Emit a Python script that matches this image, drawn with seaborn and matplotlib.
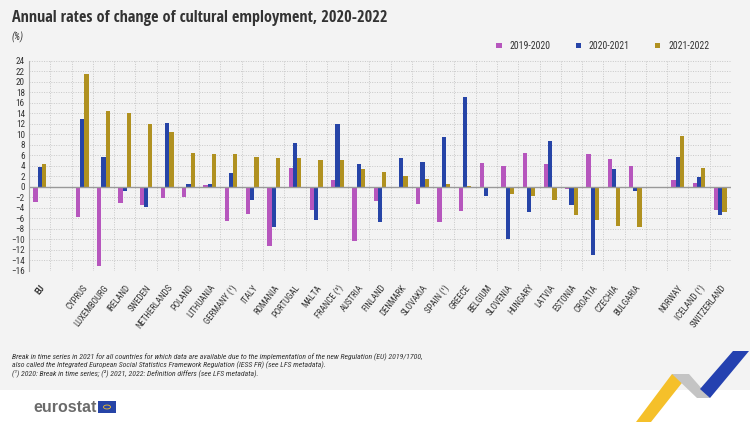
import numpy as np
import pandas as pd
import matplotlib
matplotlib.use("Agg")
import matplotlib.pyplot as plt
from matplotlib.patches import Polygon, Rectangle, Circle
import seaborn as sns

nan = np.nan

countries = ["EU", "CYPRUS", "LUXEMBOURG", "IRELAND", "SWEDEN", "NETHERLANDS",
             "POLAND", "LITHUANIA", "GERMANY (¹)", "ITALY", "ROMANIA", "PORTUGAL",
             "MALTA", "FRANCE (²)", "AUSTRIA", "FINLAND", "DENMARK", "SLOVAKIA",
             "SPAIN (¹)", "GREECE", "BELGIUM", "SLOVENIA", "HUNGARY", "LATVIA",
             "ESTONIA", "CROATIA", "CZECHIA", "BULGARIA", "NORWAY", "ICELAND (¹)",
             "SWITZERLAND"]

periods = ["2019-2020", "2020-2021", "2021-2022"]

v_2019_2020 = [-3.0, -5.7, -15.1, -3.1, -3.5, -2.2, -1.9, 0.3, -6.5, -5.2, -11.3, 3.5,
               -4.5, 1.2, -10.3, -2.7, nan, -3.3, -6.8, -4.6, 4.6, 3.9, 6.5, 4.3,
               -0.5, 6.2, 5.3, 4.0, 1.3, 0.8, -4.4]
v_2020_2021 = [3.7, 12.9, 5.7, -0.8, -3.8, 12.1, 0.6, 0.5, 2.7, -2.5, -7.6, 8.3,
               -6.3, 11.9, 4.4, -6.8, 5.4, 4.7, 9.5, 17.0, -1.8, -10.0, -4.8, 8.7,
               -3.4, -13.0, 3.3, -0.9, 5.7, 1.8, -5.3]
v_2021_2022 = [4.4, 21.5, 14.5, 14.0, 12.0, 10.5, 6.5, 6.2, 6.2, 5.6, 5.4, 5.4,
               5.0, 5.0, 3.4, 2.8, 2.0, 1.4, 0.5, 0.1, nan, -1.4, -1.8, -2.5,
               -5.3, -6.3, -7.4, -7.7, 9.7, 3.5, -4.9]

colors = ["#B656BD", "#2644A7", "#B09120"]

# empty slots between EU / member states / EFTA countries
order = countries[:1] + ["gap_a"] + countries[1:28] + ["gap_b"] + countries[28:]

df = pd.DataFrame({
    "country": countries * 3,
    "period": np.repeat(periods, len(countries)),
    "value": v_2019_2020 + v_2020_2021 + v_2021_2022,
})

sns.set_style("white")
cond = ["Roboto Condensed", "Open Sans Condensed", "DejaVu Sans"]
cond_bold = ["Open Sans Condensed", "Roboto Condensed", "DejaVu Sans"]
plt.rcParams["font.family"] = cond

bg = "#F3F3F3"
dark = "#333333"
fig = plt.figure(figsize=(7.5, 4.22), dpi=100, facecolor=bg)
ax = fig.add_axes([29 / 750, 151.3 / 422, 702 / 750, 210 / 422])
ax.set_facecolor(bg)

sns.barplot(data=df, x="country", y="value", hue="period", order=order,
            hue_order=periods, palette=colors, width=0.6, linewidth=0,
            saturation=1, ax=ax)

ax.set_ylim(-16, 24)
ax.set_xlim(-0.5, len(order) - 0.5)
ax.set_yticks(range(-16, 25, 2))
ax.set_xticks(range(len(order)))
ax.set_xticklabels(["" if o.startswith("gap") else o for o in order],
                   rotation=52, ha="right", rotation_mode="anchor",
                   fontsize=6.4, color=dark)
ax.get_xticklabels()[0].set_fontweight("bold")
ax.tick_params(axis="y", labelsize=6.6, colors=dark, length=0, pad=3)
ax.tick_params(axis="x", length=0, pad=9)
ax.set_xticks(np.arange(-0.5, len(order), 1), minor=True)
ax.tick_params(axis="x", which="minor", length=0)
ax.grid(True, axis="y", which="major", linestyle=(0, (1, 1.5)), color="#C8C8C8", lw=0.7)
ax.grid(True, axis="x", which="minor", linestyle=(0, (1, 1.5)), color="#C8C8C8", lw=0.7)
ax.set_axisbelow(True)
ax.axhline(0, color="#999999", lw=1.0, zorder=1)
for s in ["top", "right", "bottom"]:
    ax.spines[s].set_visible(False)
ax.spines["left"].set_color("#AAAAAA")
ax.spines["left"].set_linewidth(0.8)
ax.set_xlabel("")
ax.set_ylabel("")

sns.move_legend(ax, "center right", bbox_to_anchor=(718 / 750, 1 - 46 / 422),
                bbox_transform=fig.transFigure, ncol=3, frameon=False, title=None,
                fontsize=7, handlelength=0.55, handleheight=0.55,
                columnspacing=2.6, handletextpad=0.8)
for t in ax.get_legend().get_texts():
    t.set_color(dark)

fig.text(12 / 750, 1 - 18 / 422, "Annual rates of change of cultural employment, 2020-2022",
         fontsize=11.7, fontweight="bold", color=dark, va="center", family=cond_bold)
fig.text(12 / 750, 1 - 37 / 422, "(%)", fontsize=7, style="italic",
         color=dark, va="center")

notes = [
    "Break in time series in 2021 for all countries for which data are available due to the implementation of the new Regulation (EU) 2019/1700,",
    "also called the Integrated European Social Statistics Framework Regulation (IESS FR) (see LFS metadata).",
    "(¹) 2020: Break in time series; (²) 2021, 2022: Definition differs (see LFS metadata).",
]
for i, line in enumerate(notes):
    fig.text(12 / 750, 1 - (357 + 8 * i) / 422, line, fontsize=5.55,
             style="italic", color=dark, va="center")

# white footer strip with logo and decorative ribbon
fig.patches.append(Rectangle((0, 0), 1, 32 / 422, transform=fig.transFigure,
                             facecolor="white", edgecolor="none", zorder=0))
fig.text(33 / 750, 1 - 407 / 422, "eurostat", fontsize=11.5, fontweight="bold",
         color="#6B6B6B", va="center", family=["Liberation Sans", "DejaVu Sans"])
fig.patches.append(Rectangle((98 / 750, 1 - 413 / 422), 18 / 750, 12 / 422,
                             transform=fig.transFigure, facecolor="#2644A7",
                             edgecolor="none"))
fig.patches.append(Circle((107 / 750, 1 - 407 / 422), 3.5 / 750,
                          transform=fig.transFigure, facecolor="none",
                          edgecolor="#F5C02A", lw=0.6))


def fig_poly(pts, color):
    pts = [(x / 750, 1 - y / 422) for x, y in pts]
    fig.patches.append(Polygon(pts, closed=True, transform=fig.transFigure,
                               facecolor=color, edgecolor="none"))


fig_poly([(672, 374), (689, 374), (651, 422), (636, 422)], "#F5C02A")
fig_poly([(689, 374), (672, 374), (697, 398), (710, 398)], "#C4C4C4")
fig_poly([(733, 351), (749, 351), (710, 398), (700, 389)], "#2441B0")

fig.savefig("out.png", dpi=100, facecolor=bg)
